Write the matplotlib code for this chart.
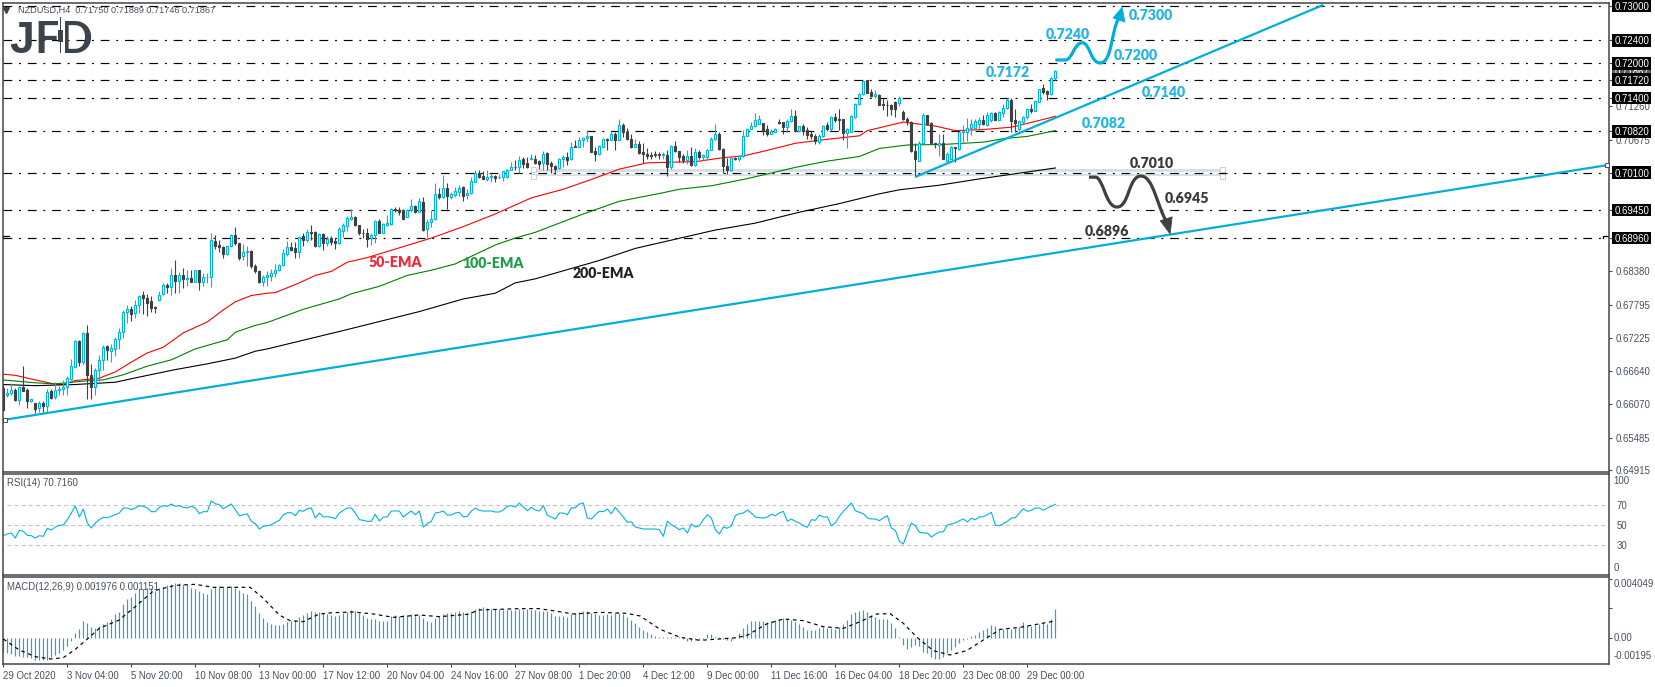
import numpy as np
import matplotlib
matplotlib.use("Agg")
import matplotlib.pyplot as plt
from matplotlib.patches import Rectangle, PathPatch, Polygon
from matplotlib.path import Path

plt.rcParams['lines.scale_dashes'] = False
plt.rcParams['font.family'] = ['Liberation Sans', 'DejaVu Sans']

# ---- candles, in pips (price x 10000) ----
direction = ("DUUDUDDUDU" "DUDUUUUUUD" "UDDUUUDUUU" "UUDUUDDDDU" "UDUDUDUDUD" "UUUDDDUUDD" "UUDDDUU"
             "UUUUUDDUDU" "DDUDUDDUUU" "UDDDDUUDUU" "UDDDUUDUDU" "UUDUDUUUDU" "UUDDUUDUUU" "UDUDDU"
             "DDUDDDUUDU" "DUUUDDUUDU" "DUDDDUDDDD" "DDUDUDDDUD" "UDUUUUDDDU" "DUUUUUUDDU" "UDDUUD"
             "UDDDDUUDUD" "DDUUUUUDDU" "DDDDDUDDDD" "UUDDDUDUUD" "UUUUUUDUUD" "UUUDDUUUDU" "UDDUU")
body_upper = [
    6635,6627,6631,6632,6637,6637,6632,6615,6609,6609,
    6609,6628,6629,6632,6634,6637,6652,6673,6716,6716,
    6730,6730,6658,6667,6684,6707,6708,6705,6721,6732,
    6767,6772,6773,6780,6795,6796,6792,6787,6776,6797,
    6815,6815,6832,6832,6832,6832,6826,6826,6840,6840,
    6828,6829,6893,6891,6884,6880,6882,6902,6902,6887,
    6872,6873,6873,6847,6839,6829,6831,
    6835,6841,6849,6870,6880,6880,6879,6898,6899,6907,
    6906,6906,6903,6903,6894,6896,6891,6911,6919,6931,
    6933,6933,6919,6905,6905,6901,6926,6926,6921,6922,
    6946,6946,6945,6944,6945,6952,6952,6961,6959,6924,
    6930,6973,6973,6983,6983,6973,6978,6983,6985,6974,
    6996,7010,7010,7004,7002,7004,7004,7003,7012,7015,
    7020,7020,7032,7033,7027,7035,
    7033,7030,7043,7044,7026,7022,7034,7037,7037,7055,
    7057,7067,7071,7073,7073,7047,7056,7069,7069,7077,
    7077,7092,7093,7080,7069,7059,7059,7045,7043,7040,
    7043,7042,7042,7041,7056,7056,7047,7038,7038,7038,
    7045,7045,7040,7050,7069,7077,7077,7051,7022,7036,
    7036,7038,7074,7085,7091,7102,7104,7096,7085,7083,
    7085,7098,7098,7099,7109,7109,
    7091,7091,7084,7077,7073,7074,7091,7092,7107,7106,
    7104,7103,7085,7108,7129,7147,7170,7171,7150,7146,
    7145,7130,7128,7127,7133,7139,7116,7104,7098,7048,
    7062,7110,7110,7096,7061,7061,7061,7043,7055,7054,
    7081,7082,7087,7095,7099,7102,7102,7111,7113,7113,
    7116,7123,7136,7136,7101,7100,7106,7120,7120,7134,
    7155,7157,7152,7175,7187]
body_lower = [
    6597,6622,6627,6614,6614,6630,6612,6612,6598,6600,
    6603,6603,6618,6619,6631,6633,6637,6651,6672,6681,
    6681,6657,6636,6637,6666,6684,6701,6699,6703,6720,
    6732,6768,6763,6765,6780,6791,6783,6775,6774,6788,
    6799,6810,6810,6821,6821,6824,6824,6820,6820,6819,
    6819,6828,6828,6883,6880,6869,6869,6882,6887,6862,
    6864,6871,6847,6838,6819,6819,6829,
    6830,6836,6840,6849,6868,6876,6872,6872,6893,6893,
    6905,6883,6883,6888,6887,6890,6888,6887,6909,6917,
    6930,6918,6904,6904,6895,6896,6901,6904,6904,6919,
    6920,6945,6942,6930,6933,6945,6942,6942,6910,6911,
    6924,6930,6967,6968,6970,6967,6971,6977,6970,6971,
    6974,6994,7002,6999,6999,7002,7001,7002,7002,7002,
    7014,7019,7019,7025,7019,7033,
    7027,7025,7026,7025,7022,7017,7018,7034,7032,7033,
    7055,7055,7067,7070,7046,7043,7043,7055,7067,7067,
    7067,7067,7080,7069,7054,7055,7044,7043,7038,7039,
    7040,7041,7040,7019,7019,7047,7037,7032,7032,7023,
    7023,7037,7037,7037,7050,7068,7051,7021,7014,7014,
    7033,7033,7038,7074,7085,7091,7095,7083,7078,7078,
    7081,7096,7090,7090,7099,7082,
    7082,7083,7075,7073,7065,7063,7073,7085,7086,7101,
    7101,7079,7079,7081,7107,7129,7146,7149,7143,7143,
    7128,7128,7127,7120,7120,7131,7103,7099,7048,7033,
    7030,7062,7094,7061,7059,7058,7034,7031,7034,7052,
    7051,7081,7080,7087,7087,7095,7094,7092,7101,7102,
    7102,7114,7123,7100,7097,7085,7098,7106,7118,7118,
    7133,7150,7146,7146,7174]
highs = [
    6641,6635,6643,6635,6639,6674,6635,6616,6609,6612,
    6612,6634,6634,6645,6638,6649,6655,6686,6719,6719,
    6732,6745,6676,6669,6692,6709,6710,6712,6723,6739,
    6770,6780,6777,6789,6796,6804,6799,6795,6777,6803,
    6818,6818,6844,6857,6837,6843,6841,6841,6841,6841,
    6835,6835,6905,6902,6893,6882,6883,6903,6916,6887,
    6886,6882,6876,6850,6841,6832,6838,
    6842,6850,6850,6877,6891,6890,6890,6899,6904,6912,
    6919,6908,6905,6904,6899,6899,6896,6915,6922,6935,
    6946,6935,6919,6912,6913,6905,6927,6930,6922,6937,
    6948,6950,6950,6946,6946,6964,6953,6966,6968,6929,
    6945,6991,6983,7006,6992,6977,6985,6989,6986,6981,
    7003,7014,7015,7012,7014,7010,7006,7008,7013,7016,
    7028,7032,7039,7037,7037,7043,
    7041,7032,7047,7045,7030,7023,7036,7040,7046,7063,
    7066,7072,7072,7084,7074,7055,7058,7071,7070,7081,
    7081,7104,7096,7088,7078,7069,7065,7061,7052,7046,
    7048,7046,7046,7049,7058,7065,7048,7043,7049,7055,
    7052,7049,7043,7051,7072,7094,7081,7052,7036,7038,
    7037,7041,7084,7088,7098,7113,7110,7097,7092,7085,
    7088,7103,7098,7104,7120,7119,
    7091,7095,7089,7083,7077,7077,7092,7098,7109,7114,
    7120,7104,7087,7110,7131,7149,7171,7171,7156,7153,
    7146,7139,7137,7130,7135,7143,7119,7107,7099,7061,
    7065,7114,7111,7098,7062,7077,7077,7046,7056,7055,
    7083,7092,7105,7103,7104,7106,7110,7116,7116,7116,
    7117,7130,7139,7139,7121,7101,7109,7121,7130,7136,
    7156,7165,7153,7177,7189]
lows = [
    6597,6619,6623,6612,6606,6629,6600,6610,6591,6593,
    6594,6593,6616,6616,6623,6622,6622,6649,6670,6673,
    6676,6616,6616,6623,6647,6667,6684,6680,6690,6703,
    6722,6748,6752,6756,6766,6764,6761,6768,6766,6786,
    6796,6800,6796,6800,6800,6809,6812,6819,6819,6805,
    6813,6818,6810,6877,6872,6861,6866,6880,6884,6858,
    6857,6847,6844,6835,6818,6813,6812,
    6822,6829,6839,6848,6865,6873,6862,6862,6883,6890,
    6893,6881,6880,6876,6883,6884,6877,6886,6898,6908,
    6927,6917,6902,6896,6880,6884,6888,6904,6904,6917,
    6919,6942,6937,6929,6933,6942,6939,6941,6909,6896,
    6916,6928,6964,6966,6946,6964,6967,6970,6960,6964,
    6973,6993,7000,6998,6995,6993,6993,6998,6996,7000,
    7014,7014,7009,7018,7018,7032,
    7025,7017,7014,7014,7010,7007,7017,7020,7023,7032,
    7054,7054,7054,7063,7045,7030,7041,7054,7049,7066,
    7049,7066,7072,7067,7052,7054,7043,7026,7033,7034,
    7037,7033,7033,7004,7017,7045,7029,7026,7025,7021,
    7022,7034,7032,7034,7049,7066,7049,7010,7008,7013,
    7032,7030,7037,7073,7085,7090,7094,7075,7074,7077,
    7080,7094,7078,7081,7098,7081,
    7081,7075,7069,7069,7059,7059,7072,7083,7083,7098,
    7084,7067,7053,7080,7105,7127,7145,7149,7142,7139,
    7127,7119,7109,7110,7106,7126,7101,7092,7046,7002,
    7030,7061,7092,7059,7052,7038,7033,7030,7033,7029,
    7049,7063,7065,7075,7084,7083,7092,7091,7098,7101,
    7101,7107,7121,7081,7081,7083,7095,7104,7113,7117,
    7132,7147,7137,7145,7172]

# ---- moving averages read at bar index / value ----
ema50_bar = [0,3,8,12,15,18,24,28,32,36,40,45,51,55,58,62,66,68,74,78,82,86,91,99,107,115,123,132,140,147,154,161,
             173,180,185,190,198,206,214,216,225,227,233,238,245,252,258,263]
ema50_val = [6659,6657,6649,6643,6641,6648,6652,6663,6680,6696,6706,6731,6750,6771,6785,6796,6800,6801,6818,6831,
             6838,6854,6862,6879,6896,6916,6938,6966,6981,6998,7016,7027,7029,7036,7039,7047,7061,7068,7074,7083,
             7098,7096,7091,7083,7085,7089,7099,7108]
ema100_bar = [0,8,13,20,25,30,36,42,48,56,58,63,66,75,84,87,94,101,107,113,123,128,133,145,154,165,169,177,185,190,
              198,206,214,219,226,235,245,250,256,263]
ema100_val = [6649,6644,6642,6647,6649,6658,6673,6684,6703,6719,6732,6744,6749,6772,6790,6799,6812,6831,6840,6851,
              6884,6896,6906,6938,6960,6975,6981,6987,6998,7006,7019,7030,7038,7052,7058,7059,7063,7069,7073,7083]
ema200_bar = [0,8,18,28,34,43,51,58,63,66,85,104,115,123,128,133,149,158,168,178,188,199,209,219,224,234,244,254,263]
ema200_val = [6641,6639,6641,6645,6654,6667,6677,6687,6699,6703,6735,6768,6790,6800,6818,6825,6857,6878,6894,6910,
              6922,6941,6956,6973,6980,6988,6999,7009,7018]

# ---- drawn objects on the chart ----
level_values = [7300,7240,7200,7172,7140,7082,7010,6945,6896]
level_labels = ['0.73000','0.72400','0.72000','0.71720','0.71400','0.70820','0.70100','0.69450','0.68960']
scale_values = [7126,7067.5,6838,6779.5,6722.5,6664,6607,6548.5,6491.5]
scale_labels = ['0.71260','0.70675','0.68380','0.67795','0.67225','0.66640','0.66070','0.65485','0.64915']
long_trend_bar, long_trend_val = [0.67,401], [6580,7023]
short_trend_bar, short_trend_val = [228,330], [7002.5,7302]
zone_bar, zone_val = [132.4,304.7], [7004,7016]

blue_notes = [('0.7300',287,7284),('0.7240',266,7251),('0.7200',283,7213),('0.7172',251,7185),('0.7140',290,7150),('0.7082',275,7096)]
dark_notes = [('0.7010',287,7025),('0.6945',296,6964),('0.6896',276,6908)]
ema_notes = [('50-EMA',98,6853,'#ee2a3a'),('100-EMA',122.4,6851,'#1f9e48'),('200-EMA',150,6835,'#222222')]

# ---- RSI(14), one value per bar ----
rsi = [39.3,41,42,37,44.7,43.7,39.7,39.3,37,39.3,38.7,46.7,45,48,49.7,50,55.3,62,69,58,66,52,47,52,55.3,57.7,57.3,58.7,
       60.3,62,67,67,65.3,67,69.3,68.7,67,63.3,63.3,67.7,69.3,68.7,71,68.7,69.3,67.7,67,68.7,67,61.3,63.3,63.3,74,71.3,
       70.3,66.3,68.7,71,65.3,59.3,60.3,61,53.7,51.3,46,48.7,49.3,50.3,52.7,54.7,60.3,62.3,62.3,59.3,64.7,63.7,66.3,67,
       57,62,58,58.3,57.7,56.3,62,64.7,67,67,62,55.3,54.7,53.7,53.7,60.7,54,58,58,64,64,64,58,61.3,64,60.3,64,48,51.3,
       53.7,62,62.7,64,60,60,62,62.7,58,58.7,64,67,64.7,64,64,64,63,63,65,68.7,69.3,68,72,
       68,64.3,67.7,65,64,69.3,59.7,58,56,62,62,60.3,67,67.3,71,72,57,56,60.3,63.7,63.3,66,61.3,67.7,62.7,58,52.7,53.3,
       48,47,46,46,46,46,45.3,38.7,53.7,50.3,48,45.3,47,42,51,48,49.3,55.3,60.3,57,45.3,41,48,46.7,49.3,59.3,61.3,62,65,
       62,58,57.3,57,58,60.7,59.3,62,63.7,53.7,56,53.7,52,49.3,47.7,55.3,54.7,60,58,58,49.3,52,58.7,63.7,67.7,72,64.3,
       62.7,61.3,57,56,56,54.3,57,59.3,47,44.7,33.7,31,42,52,49.3,42.7,42,42,38,40.7,43,43.3,50,51,52,54.3,56,53,56.7,
       55.3,58,58.3,60.3,62.7,50,49.3,51.3,53.7,57,57.3,62,66.3,63.7,64.7,67,67,64.7,67,68.7,70.7]

# ---- MACD(12,26,9), in millionths ----
macd_hist = [-922,-1035,-1102,-1215,-1215,-1260,-1260,-1372,-1485,-1485,-1485,-1485,-1260,-1147,-1035,-810,-540,-202,
             360,607,1147,1035,765,652,810,922,1102,1282,1620,1777,2295,2632,2790,3015,3307,3307,3375,3352,3195,3352,
             3465,3577,3645,3690,3690,3645,3622,3352,3307,3172,3015,2970,3285,3420,3510,3465,3465,3510,3352,3240,3015,
             2947,2497,2182,1710,1372,1080,945,855,855,945,1102,1170,1215,1395,1552,1710,1822,1777,1732,1665,1597,1552,
             1485,1552,1710,1777,1890,1845,1710,1552,1372,1260,1260,1170,1147,1147,1485,1552,1507,1552,1552,1597,1597,
             1552,1372,1170,1102,1327,1507,1597,1665,1665,1732,1822,1777,1710,1822,1935,2047,2070,2047,1980,1957,1935,
             1890,1867,1890,1912,1935,
             1912,1935,1890,1867,1822,1800,1822,1665,1485,1485,1485,1440,1620,1665,1732,1845,1800,1710,1597,1552,1552,
             1597,1552,1710,1665,1620,1440,1215,1035,720,540,405,270,135,90,67,67,90,67,45,-90,-225,-180,-135,-90,-45,
             270,270,90,45,-45,-135,-202,45,315,652,945,1147,1147,1147,1147,1102,1170,1215,1282,1350,1260,1215,1102,922,
             765,540,517,540,652,720,697,652,585,720,922,1215,1620,1755,1845,1890,1755,1552,1395,1282,1282,1260,1012,652,
             45,-472,-765,-585,-472,-540,-922,-1035,-1260,-1417,-1440,-1260,-1035,-810,-585,-360,-135,-45,135,180,427,540,
             652,855,787,585,607,607,630,697,765,1057,855,810,877,945,1035,922,1305,1976]
signal_bar = [0,4,8,12,15,18,21,24,29,32.5,37.5,40,43,48,52.5,61.7,65,69,71.7,75,79,82.5,87.5,92.5,97.5,104,109,116,119,129,
              134,139,142.5,149.2,155.8,159.2,164.2,169.2,174.2,182.5,185.8,190.8,195,200,205,210,214.2,218.3,221.7,225,
              228.4,232.5,236.7,240.8,245,249.2,254.2,263]
signal_val = [-67,-810,-1260,-1417,-1327,-765,-67,652,1215,2002,3172,3352,3555,3622,3420,3420,2677,1552,1170,1102,1620,1710,
              1755,1620,1395,1552,1440,1597,1890,1980,1980,1777,1620,1732,1665,1485,585,45,-157,0,157,945,1282,1170,765,
              652,1102,1620,1642,990,45,-855,-1147,-855,-135,585,720,1151]

date_labels = ['29 Oct 2020','3 Nov 04:00','5 Nov 20:00','10 Nov 08:00','13 Nov 00:00','17 Nov 12:00','20 Nov 04:00',
               '24 Nov 16:00','27 Nov 08:00','1 Dec 20:00','4 Dec 12:00','9 Dec 00:00','11 Dec 16:00','16 Dec 04:00',
               '18 Dec 20:00','23 Dec 08:00','29 Dec 00:00']
bars_per_date_label = 16

# ---- colours ----
CYAN, DARK, BLUE_LINE, FRAME, AXIS_TXT = '#00b4e0', '#404040', '#00aedc', '#454545', '#46505e'
W, H = 1655, 687
fig = plt.figure(figsize=(W/100, H/100), dpi=100, facecolor='white')

def axes_px(l, t, r, b):
    a = fig.add_axes([l/W, 1-b/H, (r-l)/W, (b-t)/H])
    for s in a.spines.values():
        s.set_color(FRAME); s.set_linewidth(1.1)
    a.set_xlim(-0.2, 401.4)
    a.tick_params(left=False, labelleft=False, bottom=False, labelbottom=False)
    return a

ax = axes_px(2.5, 2.5, 1609, 472)
ax_rsi = axes_px(2.5, 474, 1609, 575)
ax_macd = axes_px(2.5, 577, 1609, 664)

ax.set_ylim(6488.7, 7306.1)
ax_rsi.set_ylim(0, 101)
ax_macd.set_ylim(-1754, 4116)

TICK_FS = 6.9
bars = np.arange(len(highs))
up = np.array([c == 'U' for c in direction])
hi, lo, bu, bl = map(np.array, (highs, lows, body_upper, body_lower))

# zone
ax.add_patch(Rectangle((zone_bar[0], zone_val[0]), zone_bar[1]-zone_bar[0], zone_val[1]-zone_val[0], fc='#d5e0e4', ec='none', zorder=0.5))
ax.plot(zone_bar, [7010, 7010], color='white', lw=1.6, zorder=0.6)
ax.plot([zone_bar[0]]*2 + [zone_bar[1]]*2, zone_val*2, ls='none', marker='s', ms=3.6, mfc='white', mec='#c8d2d6', mew=0.7, zorder=0.7)

# level lines
for v in level_values:
    ax.plot([0, 401], [v, v], color='black', lw=0.85, dashes=(6.3, 4.9, 1.4, 4.9), zorder=1)

# small end hooks of the 0.6896 line
ax.plot([0, 0, 1.3], [6896, 6900, 6900], color='black', lw=0.9, zorder=1.2)
ax.plot([399.8, 399.8, 401.3], [6896, 6900, 6900], color='black', lw=0.9, zorder=1.2)

# EMAs
ax.plot(ema50_bar, ema50_val, color='#ff0000', lw=0.8, zorder=2)
ax.plot(ema100_bar, ema100_val, color='#007f00', lw=0.8, zorder=2)
ax.plot(ema200_bar, ema200_val, color='black', lw=0.8, zorder=2)

# candles
ax.vlines(bars[up], lo[up], hi[up], color=CYAN, lw=0.8, zorder=3)
ax.vlines(bars[~up], lo[~up], hi[~up], color=DARK, lw=0.8, zorder=3)
ax.bar(bars[up], (bu-bl)[up], bottom=bl[up], width=0.48, fc='white', ec=CYAN, lw=0.8, zorder=3.2)
ax.bar(bars[~up], (bu-bl)[~up], bottom=bl[~up], width=0.48, fc=DARK, ec=DARK, lw=0.8, zorder=3.2)

# trend lines
ax.plot(long_trend_bar, long_trend_val, color=BLUE_LINE, lw=1.6, zorder=4, solid_capstyle='butt')
ax.plot(short_trend_bar, short_trend_val, color=BLUE_LINE, lw=1.6, zorder=4, solid_capstyle='butt')
ax.plot([long_trend_bar[0]-0.3, long_trend_bar[1]], [long_trend_val[0], long_trend_val[1]], ls='none', marker='s', ms=3.4, mfc='white', mec='#333333', mew=0.6, zorder=4.5, clip_on=False)

# scenario arrows
M, C, L = Path.MOVETO, Path.CURVE4, Path.LINETO
up_pts = [(263,7206),(265.5,7206),(267.2,7206),(267.7,7236),(269.7,7236),(271.7,7236),(271.7,7201),(274.2,7201),(277.2,7201),(277,7258),(278.7,7276)]
up_codes = [M, L, C, C, C, C, C, C, C, C, C]
ax.add_patch(PathPatch(Path(up_pts, up_codes), fc='none', ec=BLUE_LINE, lw=2.3, zorder=5, capstyle='butt'))
ax.add_patch(Polygon([(279.7,7298),(277.4,7279),(280.4,7272)], fc=BLUE_LINE, ec=BLUE_LINE, lw=0.5, zorder=5))
dn_pts = [(271.4,7002),(273,7002),(275,7002),(275.5,6950),(278.4,6950),(281.5,6950),(281.2,7004),(284.4,7004),(287.5,7004),(288.5,6950),(290.7,6926)]
ax.add_patch(PathPatch(Path(dn_pts, up_codes), fc='none', ec=DARK, lw=2.3, zorder=5, capstyle='butt'))
ax.add_patch(Polygon([(291.7,6903),(289.2,6926),(292.2,6933)], fc=DARK, ec=DARK, lw=0.5, zorder=5))

# notes
NOTE = dict(family=['Lato', 'DejaVu Sans'], fontweight='heavy', fontsize=10.2, ha='center', va='center', zorder=6)
for t, x, y in blue_notes:
    ax.text(x, y, t, color='#22b4e2', **NOTE)
for t, x, y in dark_notes:
    ax.text(x, y, t, color='#3a3a3a', **NOTE)
for t, x, y, c in ema_notes:
    ax.text(x, y, t, color=c, **NOTE)

# price scale
ax.yaxis.tick_right()
ax.tick_params(right=True, labelright=True, length=2, width=0.8, color=FRAME, pad=3.0, labelsize=TICK_FS, labelcolor=AXIS_TXT)
ax.set_yticks(scale_values + level_values)
ax.set_yticklabels(scale_labels + [''] * len(level_values))

box_tf = ax.get_yaxis_transform()
def price_box(v, txt, fc, z):
    ax.add_patch(Rectangle((1.0017, v-11), 0.0246, 22, transform=box_tf, fc=fc, ec='none', clip_on=False, zorder=z))
    ax.annotate(txt, xy=(1, v), xycoords=('axes fraction', 'data'), xytext=(4.1, 0), textcoords='offset points',
                color='white', fontsize=TICK_FS, va='center_baseline', ha='left', zorder=z+0.1, annotation_clip=False)
price_box(7186.7, '0.71867', '#5c5c5c', 7)
for v, t in zip(level_values, level_labels):
    price_box(v, t, 'black', 8)

# chart captions
def caption(a, txt, dy_px, **kw):
    a.annotate(txt, xy=(0, 1), xycoords='axes fraction', xytext=(kw.pop('dx', 4.5)*0.72, -dy_px*0.72), textcoords='offset points',
               color=AXIS_TXT, fontsize=kw.pop('fs', TICK_FS), va='center', ha='left', zorder=9, **kw)
caption(ax, 'NZDUSD,H4  0.71750 0.71889 0.71746 0.71867', 8, dx=15.5, fs=6.6)
ax.plot([0.0024], [0.9845], transform=ax.transAxes, marker='v', ms=4.2, color='#404040', ls='none', zorder=9)
caption(ax_rsi, 'RSI(14) 70.7160', 9)
caption(ax_macd, 'MACD(12,26,9) 0.001976 0.001151', 10)

# logo
LOGO = '#3d434b'
for ch, dx, fam in (('J', 7.0, 'Liberation Sans'), ('F', 31.8, 'Lato'), ('D', 55.6, 'Lato')):
    ax.annotate(ch, xy=(0, 1), xycoords='axes fraction', xytext=(dx*0.72, -50.5*0.72), textcoords='offset points',
                family=[fam, 'DejaVu Sans'], fontweight='bold', fontsize=32, color=LOGO, va='baseline', ha='left', zorder=9)
def fx(p): return (p-2.5)/1606.5
def fy(p): return 1-(p-2.5)/469.5
ax.add_patch(Rectangle((fx(57.5), fy(54)), fx(65)-fx(57.5), fy(16)-fy(54), transform=ax.transAxes, fc='white', ec='none', zorder=9.2))
ax.add_patch(Rectangle((fx(59.5), fy(53)), fx(60.6)-fx(59.5), fy(17.5)-fy(53), transform=ax.transAxes, fc=LOGO, ec='none', zorder=9.3))
ax.add_patch(Rectangle((fx(57.5), fy(42)), fx(62.5)-fx(57.5), fy(30)-fy(42), transform=ax.transAxes, fc=LOGO, ec='none', zorder=9.3))

# RSI
for lvl in (70, 50, 30):
    ax_rsi.plot([1, 401], [lvl, lvl], color='#c4c4c4', lw=0.8, dashes=(2.9, 2.2), zorder=1)
ax_rsi.plot(np.arange(len(rsi)), rsi, color=CYAN, lw=0.8, zorder=2)
ax_rsi.yaxis.tick_right()
ax_rsi.set_yticks([70, 50, 30])
ax_rsi.tick_params(right=False, labelright=True, pad=2.2, labelsize=TICK_FS, labelcolor=AXIS_TXT)
for v, t in ((94, '100'), (7, '0')):
    ax_rsi.annotate(t, xy=(1, v), xycoords=('axes fraction', 'data'), xytext=(3, 0), textcoords='offset points',
                    color=AXIS_TXT, fontsize=TICK_FS, va='center', annotation_clip=False)

# MACD
ax_macd.vlines(np.arange(len(macd_hist)), 0, macd_hist, color='#14aad2', lw=0.85, zorder=2)
ax_macd.plot(signal_bar, signal_val, color='black', lw=0.85, dashes=(2.6, 2.6), zorder=3)
ax_macd.yaxis.tick_right()
for v, t in ((3644, '0.004049'), (0, '0.00'), (-1190, '-0.00195')):
    ax_macd.annotate(t, xy=(1, v), xycoords=('axes fraction', 'data'), xytext=(3, 0), textcoords='offset points',
                     color=AXIS_TXT, fontsize=TICK_FS, va='center', annotation_clip=False)

# date axis
pos = [k*bars_per_date_label for k in range(len(date_labels))]
ax_macd.set_xticks(pos)
ax_macd.set_xticklabels(date_labels, ha='left')
ax_macd.tick_params(bottom=True, labelbottom=True, length=2, width=0.8, color=FRAME, pad=3.0, labelsize=TICK_FS, labelcolor=AXIS_TXT)

fig.savefig('out.png', dpi=100, facecolor='white')
